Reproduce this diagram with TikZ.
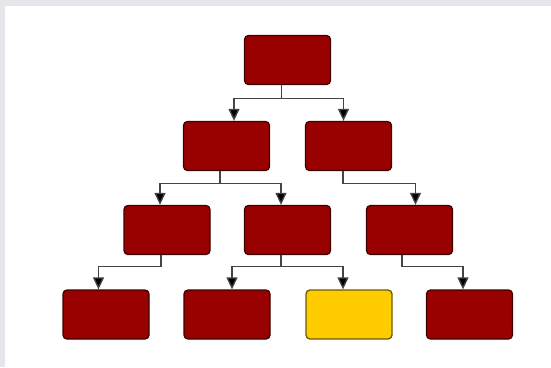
\documentclass[tikz,border=0pt]{standalone}
\usetikzlibrary{arrows.meta}

\definecolor{pagegray}{HTML}{E4E6EA}
\definecolor{boxred}{HTML}{990000}
\definecolor{boxredline}{HTML}{3E0000}
\definecolor{boxyellow}{HTML}{FFCC00}
\definecolor{boxyellowline}{HTML}{6E5A00}
\definecolor{linkgray}{HTML}{444444}

\tikzset{
  treebox/.style={rectangle, rounded corners=4pt, minimum width=86pt,
    minimum height=49pt, inner sep=0pt, line width=1.3pt,
    draw=boxredline, fill=boxred},
  hilitebox/.style={treebox, draw=boxyellowline, fill=boxyellow},
  conn/.style={draw=linkgray, line width=1.3pt,
    -{Triangle[width=11pt,length=12pt,fill=black]}},
}

\begin{document}
\begin{tikzpicture}[x=1pt,y=-1pt]
  % page frame
  \fill[pagegray] (0,0) rectangle (551,367);
  \fill[white] (5,6) rectangle (551,367);
  \useasboundingbox (0,0) rectangle (551,367);

  % level 1
  \node[treebox] (t) at (287.5,60) {};
  % level 2
  \node[treebox] (a1) at (226.5,146) {};
  \node[treebox] (a2) at (348.5,146) {};
  % level 3
  \node[treebox] (b1) at (167,230) {};
  \node[treebox] (b2) at (287.5,230) {};
  \node[treebox] (b3) at (409.5,230) {};
  % level 4
  \node[treebox] (c1) at (106,314.5) {};
  \node[treebox] (c2) at (227,314.5) {};
  \node[hilitebox] (c3) at (349,314.5) {};
  \node[treebox] (c4) at (469.5,314.5) {};

  % elbow connectors
  \draw[conn] ([xshift=-6pt]t.south) -- ++(0,13) -| ([xshift=7.5pt]a1.north);
  \draw[conn] ([xshift=-6pt]t.south) -- ++(0,13) -| ([xshift=-5pt]a2.north);

  \draw[conn] ([xshift=-6.5pt]a1.south) -- ++(0,12) -| ([xshift=-7pt]b1.north);
  \draw[conn] ([xshift=-6.5pt]a1.south) -- ++(0,12) -| ([xshift=-6.5pt]b2.north);
  \draw[conn] ([xshift=-5.5pt]a2.south) -- ++(0,12) -| ([xshift=6pt]b3.north);

  \draw[conn] ([xshift=-6pt]b1.south) -- ++(0,11) -| ([xshift=-7.5pt]c1.north);
  \draw[conn] ([xshift=-6.5pt]b2.south) -- ++(0,11) -| ([xshift=5pt]c2.north);
  \draw[conn] ([xshift=-6.5pt]b2.south) -- ++(0,11) -| ([xshift=-6pt]c3.north);
  \draw[conn] ([xshift=-7.5pt]b3.south) -- ++(0,11) -| ([xshift=-6.5pt]c4.north);
\end{tikzpicture}
\end{document}
